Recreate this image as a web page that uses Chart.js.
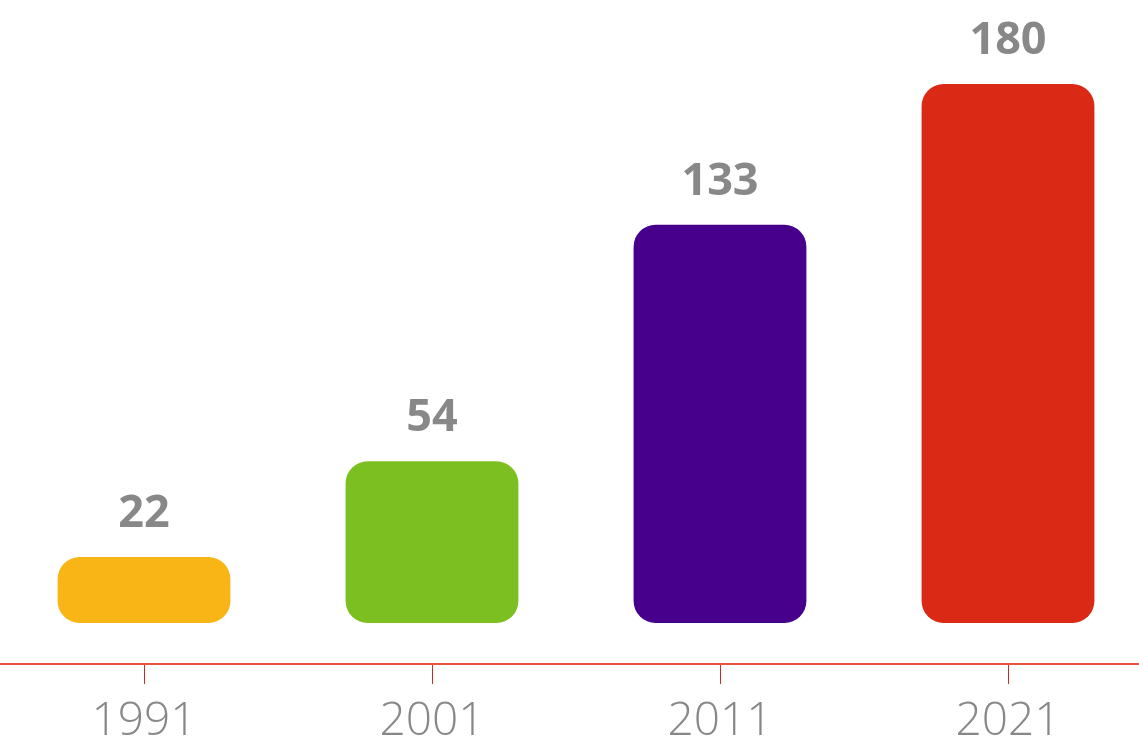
<!DOCTYPE html>
<html>
<head>
<meta charset="utf-8">
<script src="https://cdn.jsdelivr.net/npm/chart.js@4/dist/chart.umd.min.js"></script>
<style>
    html, body { margin: 0; padding: 0; background: #fff; overflow: hidden; }
    #wrap { width: 1152px; height: 747px; position: relative; }
</style>
</head>
<body>
<div id="wrap"><canvas id="popChart"></canvas></div>
<script>
// Chart data
const years = ['1991', '2001', '2011', '2021'];
const values = [22, 54, 133, 180];
const barColors = ['#F9B515', '#7BBF20', '#46008C', '#DA2914'];

/**
 * Draw value labels above each bar
 */
const valueLabels = {
    id: 'valueLabels',
    afterDatasetsDraw(chart) {
        const ctx = chart.ctx;
        const meta = chart.getDatasetMeta(0);
        ctx.save();
        ctx.font = '700 45px "Open Sans", sans-serif';
        ctx.fillStyle = '#888888';
        ctx.textAlign = 'center';
        ctx.textBaseline = 'alphabetic';
        meta.data.forEach((bar, i) => {
            ctx.fillText(String(values[i]), bar.x, bar.y - 30);
        });
        ctx.restore();
    }
};

const ctx = document.getElementById('popChart');

new Chart(ctx, {
    type: 'bar',
    data: {
        labels: years,
        datasets: [{
            data: values,
            backgroundColor: barColors,
            borderRadius: 22,
            borderSkipped: false,
            barPercentage: 0.6,
            categoryPercentage: 1
        }]
    },
    options: {
        responsive: true,
        maintainAspectRatio: false,
        animation: false,
        layout: {
            padding: { top: 84, left: 0, right: 0, bottom: -13 }
        },
        plugins: {
            legend: { display: false },
            tooltip: { enabled: false }
        },
        scales: {
            y: {
                display: false,
                min: -13.7,
                max: 180
            },
            x: {
                offset: true,
                grid: {
                    offset: false,
                    drawOnChartArea: false,
                    color: '#D0281A',
                    tickLength: 20,
                    lineWidth: 1
                },
                border: {
                    color: '#E8533F',
                    width: 2
                },
                ticks: {
                    color: '#888888',
                    padding: 15,
                    font: { family: '"Open Sans", sans-serif', size: 46, weight: '300', lineHeight: 1 }
                }
            }
        }
    },
    plugins: [valueLabels]
});
</script>
</body>
</html>
